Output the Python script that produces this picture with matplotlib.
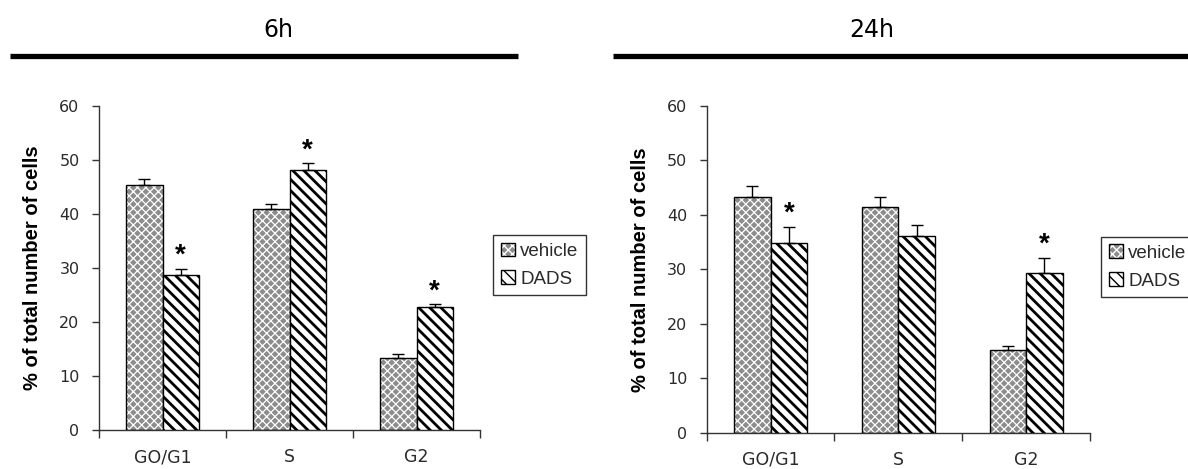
import matplotlib
matplotlib.use("Agg")
import matplotlib.pyplot as plt
import numpy as np
from matplotlib.lines import Line2D
from matplotlib.patches import Patch

categories = ["GO/G1", "S", "G2"]
series_names = ["vehicle", "DADS"]
panel_titles = ["6h", "24h"]
ylabel_text = "% of total number of cells"
yticks = [0, 10, 20, 30, 40, 50, 60]

vehicle_6h = [45.4, 41.0, 13.3]
vehicle_6h_err = [1.1, 0.8, 0.7]
dads_6h = [28.7, 48.2, 22.8]
dads_6h_err = [1.1, 1.2, 0.5]
stars_6h = [True, True, True]

vehicle_24h = [43.2, 41.5, 15.1]
vehicle_24h_err = [2.1, 1.7, 0.8]
dads_24h = [34.9, 36.2, 29.3]
dads_24h_err = [2.9, 2.0, 2.8]
stars_24h = [True, False, True]

W, H = 1188, 469
fig = plt.figure(figsize=(W / 100, H / 100), dpi=100)
plt.rcParams['font.family'] = ['Liberation Sans', 'DejaVu Sans']

axes_px = [(99, 480, 106, 430), (706.7, 1090, 106, 432.7)]
legend_px = [(493, 235), (1101, 237)]
title_px = [(278, 30), (872, 30)]
line_px = [(10, 518, 56), (613, 1188, 56)]
label_x_px = [42, 650]

data = [
    (vehicle_6h, vehicle_6h_err, dads_6h, dads_6h_err, stars_6h),
    (vehicle_24h, vehicle_24h_err, dads_24h, dads_24h_err, stars_24h),
]

bw = 0.285
veh_face = '#8c8c8c'
veh_hatch = 'xxxx'
dads_hatch = '\\\\\\'
tick_col = '#2a2a2a'

for i, (veh, veherr, dads, dadserr, stars) in enumerate(data):
    x0, x1, yt, yb = axes_px[i]
    ax = fig.add_axes([x0 / W, 1 - yb / H, (x1 - x0) / W, (yb - yt) / H])
    x = np.arange(len(categories)) + 0.5
    with plt.rc_context({'hatch.linewidth': 0.9}):
        ax.bar(x - bw / 2, veh, bw, color=veh_face, edgecolor='white',
               hatch=veh_hatch, linewidth=0, zorder=2)
    ax.bar(x - bw / 2, veh, bw, fill=False, edgecolor='black',
           linewidth=1.0, zorder=3)
    with plt.rc_context({'hatch.linewidth': 2.0}):
        ax.bar(x + bw / 2, dads, bw, color='white', edgecolor='black',
               hatch=dads_hatch, linewidth=1.0, zorder=3)
    ax.errorbar(x - bw / 2, veh, yerr=[np.zeros(3), veherr], fmt='none',
                ecolor='black', elinewidth=1, capsize=4, capthick=1, zorder=4)
    ax.errorbar(x + bw / 2, dads, yerr=[np.zeros(3), dadserr], fmt='none',
                ecolor='black', elinewidth=1, capsize=4, capthick=1, zorder=4)
    for j, s in enumerate(stars):
        if s:
            ax.annotate('*', (x[j] + bw / 2, dads[j] + dadserr[j]),
                        xytext=(0, 0), textcoords='offset points',
                        ha='center', va='bottom', fontsize=20,
                        fontweight='bold', color='black')
    ax.set_xlim(0, 3)
    ax.set_ylim(0, 60)
    ax.set_yticks(yticks)
    ax.set_xticks([0, 1, 2, 3])
    ax.set_xticklabels([])
    ax.set_xticks(x, minor=True)
    ax.set_xticklabels(categories, minor=True)
    ax.tick_params(axis='x', which='minor', length=0, pad=13,
                   labelsize=12.5, labelcolor=tick_col)
    ax.tick_params(axis='x', which='major', length=6, width=1,
                   direction='out', color='#333333')
    ax.tick_params(axis='y', length=5, width=1, direction='out',
                   labelsize=11.5, labelcolor=tick_col, color='#333333', pad=9)
    for lab in ax.get_yticklabels():
        lab.set_family('DejaVu Sans')
    for lab in ax.get_xticklabels(minor=True):
        lab.set_family('DejaVu Sans')
    for sp in ['top', 'right']:
        ax.spines[sp].set_visible(False)
    for sp in ['left', 'bottom']:
        ax.spines[sp].set_color('#333333')
        ax.spines[sp].set_linewidth(1)
    ax.set_ylabel(ylabel_text, fontsize=14.5, fontweight='bold',
                  family=['Liberation Sans', 'DejaVu Sans'])
    ax.yaxis.set_label_coords(-(x0 - label_x_px[i]) / (x1 - x0), 0.5)
    ax.patch.set_visible(False)

    # legend
    with plt.rc_context({'hatch.linewidth': 0.9}):
        h1a = Patch(facecolor=veh_face, edgecolor='white', hatch=veh_hatch, linewidth=0)
    h1b = Patch(fill=False, edgecolor='black', linewidth=1)
    with plt.rc_context({'hatch.linewidth': 2.0}):
        h2 = Patch(facecolor='white', edgecolor='black', hatch=dads_hatch, linewidth=1)
    lx, ly = legend_px[i]
    leg = fig.legend([(h1a, h1b), h2], series_names, loc='upper left',
                     bbox_to_anchor=(lx / W, 1 - ly / H), frameon=True,
                     fancybox=False, edgecolor='black', fontsize=13.5,
                     handlelength=0.75, handleheight=0.75, handletextpad=0.3,
                     labelspacing=0.55, borderpad=0.4, borderaxespad=0)
    leg.get_frame().set_linewidth(1)
    for t in leg.get_texts():
        t.set_color(tick_col)

    # title and rule
    tx, ty = title_px[i]
    fig.text(tx / W, 1 - ty / H, panel_titles[i], ha='center', va='center',
             fontsize=17, family='DejaVu Sans')
    lx0, lx1, lyy = line_px[i]
    fig.add_artist(Line2D([lx0 / W, lx1 / W], [1 - lyy / H, 1 - lyy / H],
                          transform=fig.transFigure, color='black', linewidth=3.8,
                          solid_capstyle='butt'))

fig.savefig('out.png', dpi=100)
